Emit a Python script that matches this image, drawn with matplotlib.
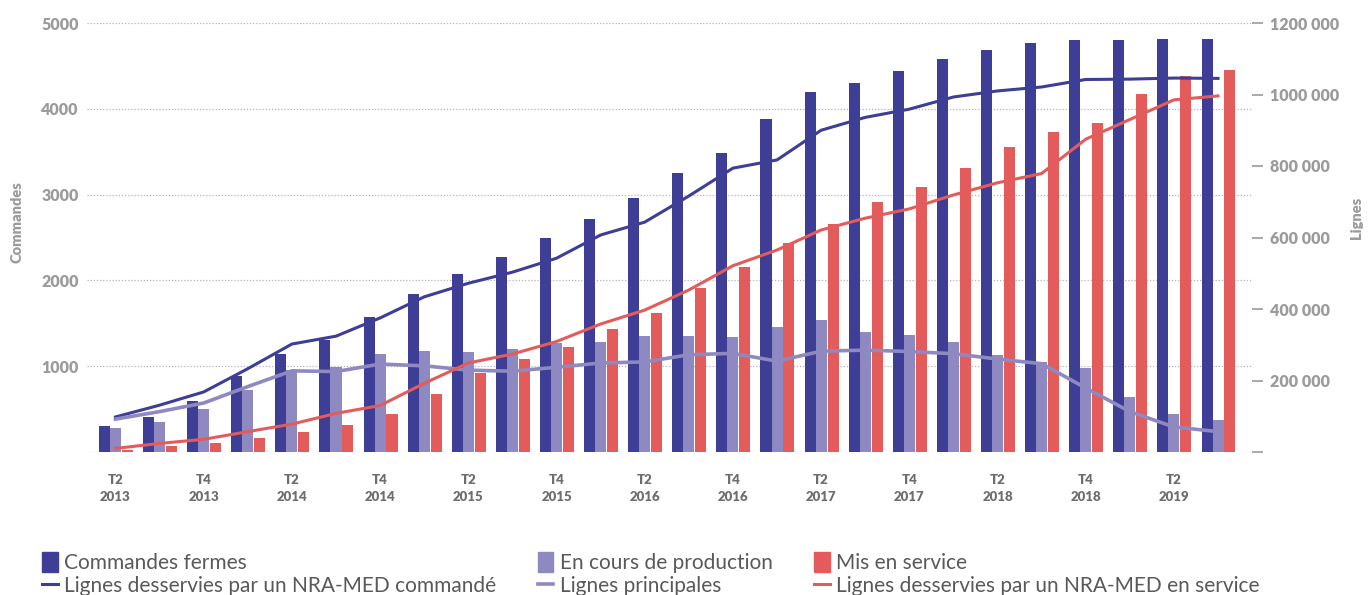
import numpy as np
import matplotlib
matplotlib.use("Agg")
import matplotlib.pyplot as plt
from matplotlib.patches import Patch
from matplotlib.lines import Line2D

# Trimestres T2 2013 -> T3 2019
quarters = [f"T{q} {y}" for y in range(2013, 2020) for q in range(1, 5)][1:27]

commandes_fermes = [300, 410, 590, 880, 1140, 1310, 1570, 1840, 2070, 2270,
                    2490, 2710, 2960, 3250, 3490, 3880, 4190, 4300, 4440, 4580,
                    4680, 4770, 4800, 4800, 4810, 4810]
en_cours = [280, 350, 500, 720, 950, 990, 1140, 1180, 1165, 1200,
            1270, 1280, 1350, 1350, 1340, 1455, 1540, 1400, 1365, 1280,
            1130, 1050, 980, 640, 440, 370]
mis_en_service = [20, 70, 100, 160, 230, 310, 440, 680, 920, 1080,
                  1220, 1430, 1620, 1910, 2160, 2440, 2660, 2910, 3090, 3310,
                  3555, 3730, 3835, 4170, 4380, 4450]

lignes_commande = [98000, 131000, 168000, 233000, 302000, 324000, 375000, 434000,
                   472000, 503000, 542000, 607000, 643000, 716000, 794000, 817000,
                   900000, 936000, 959000, 993000, 1010000, 1021000, 1042000,
                   1043000, 1046000, 1045000]
lignes_principales = [92000, 113000, 137000, 183000, 227000, 225000, 246000, 241000,
                      229000, 226000, 237000, 249000, 252000, 272000, 276000, 254000,
                      282000, 285000, 281000, 275000, 260000, 247000, 179000,
                      113000, 70000, 57000]
lignes_service = [10000, 24000, 35500, 57000, 78000, 108000, 130000, 192000,
                  249000, 274000, 309000, 358000, 397000, 453000, 521000, 565000,
                  621000, 654000, 680000, 719000, 753000, 779000, 875000,
                  930000, 985000, 996000]

DARK = "#3e3e96"
LIGHT = "#8e89c1"
RED = "#e35b5b"
GREY = "#9b9b9d"
TICK_GREY = "#6d6e71"

plt.rcParams["font.family"] = ["Lato", "DejaVu Sans"]

x = np.arange(len(quarters))
w = 0.25

fig = plt.figure(figsize=(13.7, 5.95), dpi=100)
ax = fig.add_axes([87 / 1370, 1 - 452 / 595, (1252 - 87) / 1370, (452 - 23) / 595])
ax2 = ax.twinx()

ax.bar(x - 0.25, commandes_fermes, w, color=DARK, zorder=2)
ax.bar(x, en_cours, w, color=LIGHT, zorder=2)
ax.bar(x + 0.27, mis_en_service, w, color=RED, zorder=2)

ax2.plot(x, lignes_commande, color=DARK, lw=2.2, zorder=3)
ax2.plot(x, lignes_principales, color=LIGHT, lw=2.6, zorder=3)
ax2.plot(x, lignes_service, color=RED, lw=2.2, zorder=3)

ax.set_xlim(-0.646, 25.77)
ax.set_ylim(0, 5000)
ax2.set_ylim(0, 1200000)

ax.set_yticks([0, 1000, 2000, 3000, 4000, 5000])
ax.set_yticklabels(["", "1000", "2000", "3000", "4000", "5000"])
ax.tick_params(axis="y", length=0, pad=6, labelsize=11.5, labelcolor=GREY)
for lab in ax.get_yticklabels():
    lab.set_fontweight("heavy")
ax.grid(axis="y", color="#b5b5b5", linestyle=(0, (1, 1.5)), linewidth=0.9, zorder=0)

ticks_r = [0, 200000, 400000, 600000, 800000, 1000000, 1200000]
ax2.set_yticks(ticks_r)
ax2.set_yticklabels(["", "200 000", "400 000", "600 000", "800 000", "1000 000", "1200 000"])
ax2.tick_params(axis="y", length=8, width=1.2, color=GREY, pad=5,
                labelsize=11.5, labelcolor=GREY)
for lab in ax2.get_yticklabels():
    lab.set_fontweight("heavy")

xt = x[::2]
xl = [f"{q.split()[0]}\n{q.split()[1]}" for q in quarters[::2]]
ax.set_xticks(xt)
ax.set_xticklabels(xl, fontsize=9.5, fontweight="heavy", color=TICK_GREY,
                   linespacing=1.45)
ax.tick_params(axis="x", length=0, pad=16)

for a in (ax, ax2):
    for s in a.spines.values():
        s.set_visible(False)

fig.text(17 / 1370, 1 - 222 / 595, "Commandes", rotation=90, ha="center", va="center",
         fontsize=10.5, fontweight="heavy", color=GREY)
fig.text(1356 / 1370, 1 - 218 / 595, "Lignes", rotation=90, ha="center", va="center",
         fontsize=10.5, fontweight="heavy", color=GREY)

handles = [
    Patch(color=DARK, label="Commandes fermes"),
    Line2D([], [], color=DARK, lw=2.2, label="Lignes desservies par un NRA-MED commandé"),
    Patch(color=LIGHT, label="En cours de production"),
    Line2D([], [], color=LIGHT, lw=2.6, label="Lignes principales"),
    Patch(color=RED, label="Mis en service"),
    Line2D([], [], color=RED, lw=2.2, label="Lignes desservies par un NRA-MED en service"),
]
leg = fig.legend(handles=handles, ncol=3, loc="lower left",
                 bbox_to_anchor=(0.017, -0.034), frameon=False,
                 prop={"family": ["Lato", "DejaVu Sans"], "weight": "normal", "size": 15.0},
                 handlelength=0.75, handleheight=1.15, handletextpad=0.3,
                 columnspacing=2.0, labelspacing=0.1, labelcolor="#58595b")

fig.savefig("out.png", dpi=100)
